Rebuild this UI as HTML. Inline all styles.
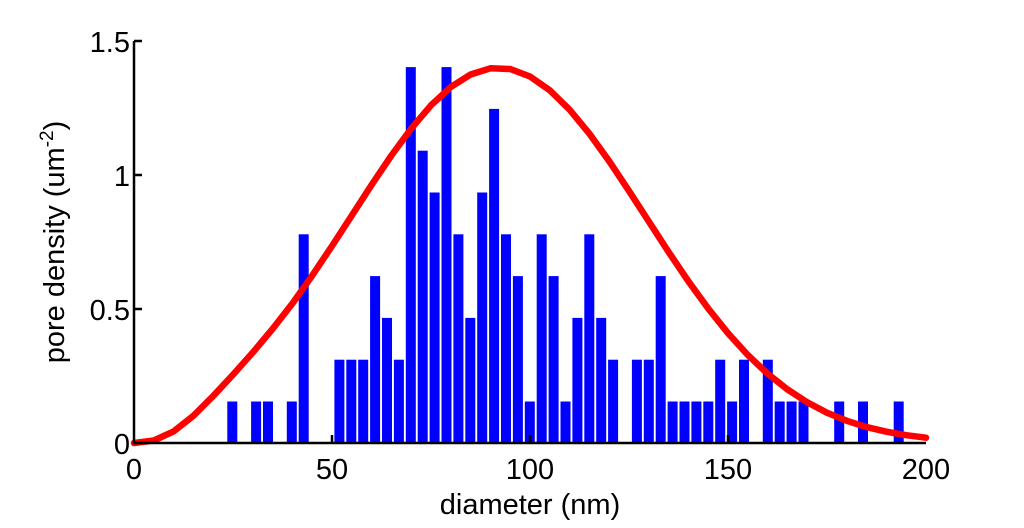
<!DOCTYPE html>
<html><head><style>body{margin:0;background:#fff}svg{display:block}text{font-family:"Liberation Sans",sans-serif;fill:#000}</style></head>
<body>
<svg width="1024" height="528" viewBox="0 0 1024 528" xmlns="http://www.w3.org/2000/svg">
<g fill="#0000ff">
<rect x="227.3" y="401.5" width="10" height="41.8"/>
<rect x="251.1" y="401.5" width="10" height="41.8"/>
<rect x="263.0" y="401.5" width="10" height="41.8"/>
<rect x="286.8" y="401.5" width="10" height="41.8"/>
<rect x="298.7" y="234.3" width="10" height="209"/>
<rect x="334.4" y="359.7" width="10" height="83.6"/>
<rect x="346.3" y="359.7" width="10" height="83.6"/>
<rect x="358.2" y="359.7" width="10" height="83.6"/>
<rect x="370.1" y="276.1" width="10" height="167.2"/>
<rect x="382.0" y="317.9" width="10" height="125.4"/>
<rect x="393.9" y="359.7" width="10" height="83.6"/>
<rect x="405.8" y="67.1" width="10" height="376.2"/>
<rect x="417.7" y="150.7" width="10" height="292.6"/>
<rect x="429.6" y="192.5" width="10" height="250.8"/>
<rect x="441.5" y="67.1" width="10" height="376.2"/>
<rect x="453.4" y="234.3" width="10" height="209"/>
<rect x="465.3" y="317.9" width="10" height="125.4"/>
<rect x="477.2" y="192.5" width="10" height="250.8"/>
<rect x="489.1" y="108.9" width="10" height="334.4"/>
<rect x="501.0" y="234.3" width="10" height="209"/>
<rect x="512.9" y="276.1" width="10" height="167.2"/>
<rect x="524.8" y="401.5" width="10" height="41.8"/>
<rect x="536.7" y="234.3" width="10" height="209"/>
<rect x="548.6" y="276.1" width="10" height="167.2"/>
<rect x="560.5" y="401.5" width="10" height="41.8"/>
<rect x="572.4" y="317.9" width="10" height="125.4"/>
<rect x="584.3" y="234.3" width="10" height="209"/>
<rect x="596.2" y="317.9" width="10" height="125.4"/>
<rect x="608.1" y="359.7" width="10" height="83.6"/>
<rect x="631.9" y="359.7" width="10" height="83.6"/>
<rect x="643.8" y="359.7" width="10" height="83.6"/>
<rect x="655.7" y="276.1" width="10" height="167.2"/>
<rect x="667.6" y="401.5" width="10" height="41.8"/>
<rect x="679.5" y="401.5" width="10" height="41.8"/>
<rect x="691.4" y="401.5" width="10" height="41.8"/>
<rect x="703.3" y="401.5" width="10" height="41.8"/>
<rect x="715.2" y="359.7" width="10" height="83.6"/>
<rect x="727.1" y="401.5" width="10" height="41.8"/>
<rect x="739.0" y="359.7" width="10" height="83.6"/>
<rect x="762.8" y="359.7" width="10" height="83.6"/>
<rect x="774.7" y="401.5" width="10" height="41.8"/>
<rect x="786.6" y="401.5" width="10" height="41.8"/>
<rect x="798.5" y="401.5" width="10" height="41.8"/>
<rect x="834.2" y="401.5" width="10" height="41.8"/>
<rect x="858.0" y="401.5" width="10" height="41.8"/>
<rect x="893.7" y="401.5" width="10" height="41.8"/>
</g>
<polyline fill="none" stroke="#ff0000" stroke-width="6.5" stroke-linejoin="round" stroke-linecap="round" points="134,443 153.8,440.5 173.6,431.4 193.4,415.8 213.2,396 233,374.7 252.8,352.5 272.6,328.9 292.4,303.5 312.2,275.6 332,246 351.8,215.5 371.6,184.9 391.4,155.5 411.2,128.6 431,105.3 450.8,87 470.6,74.5 490.4,68.3 510.2,69 530,76.5 549.8,90.3 569.6,109.7 589.4,133.7 609.2,161.2 629,190.9 648.8,221.5 668.6,252 688.4,281.3 708.2,308.5 728,333.2 747.8,355 767.6,373.7 787.4,389.4 807.2,402.3 827,412.7 846.8,420.8 866.6,427.1 886.4,431.7 906.2,435.2 926,437.7"/>
<g stroke="#000" stroke-width="2.5" fill="none">
<path d="M134 41 V443 H926"/>
<path d="M134 41 H142 M134 175 H142 M134 309 H142 M332 443 V435 M530 443 V435 M728 443 V435"/>
</g>
<g font-size="29" text-anchor="end">
<text x="130" y="52">1.5</text>
<text x="130" y="186">1</text>
<text x="130" y="320">0.5</text>
<text x="130" y="454">0</text>
</g>
<g font-size="29" text-anchor="middle">
<text x="134" y="479">0</text>
<text x="332" y="479">50</text>
<text x="530" y="479">100</text>
<text x="728" y="479">150</text>
<text x="926" y="479">200</text>
<text x="530" y="514">diameter (nm)</text>
</g>
<text font-size="29" text-anchor="middle" transform="translate(64,242) rotate(-90)">pore density (um<tspan font-size="19" dy="-11">-2</tspan><tspan dy="11">)</tspan></text>
</svg>
</body></html>
